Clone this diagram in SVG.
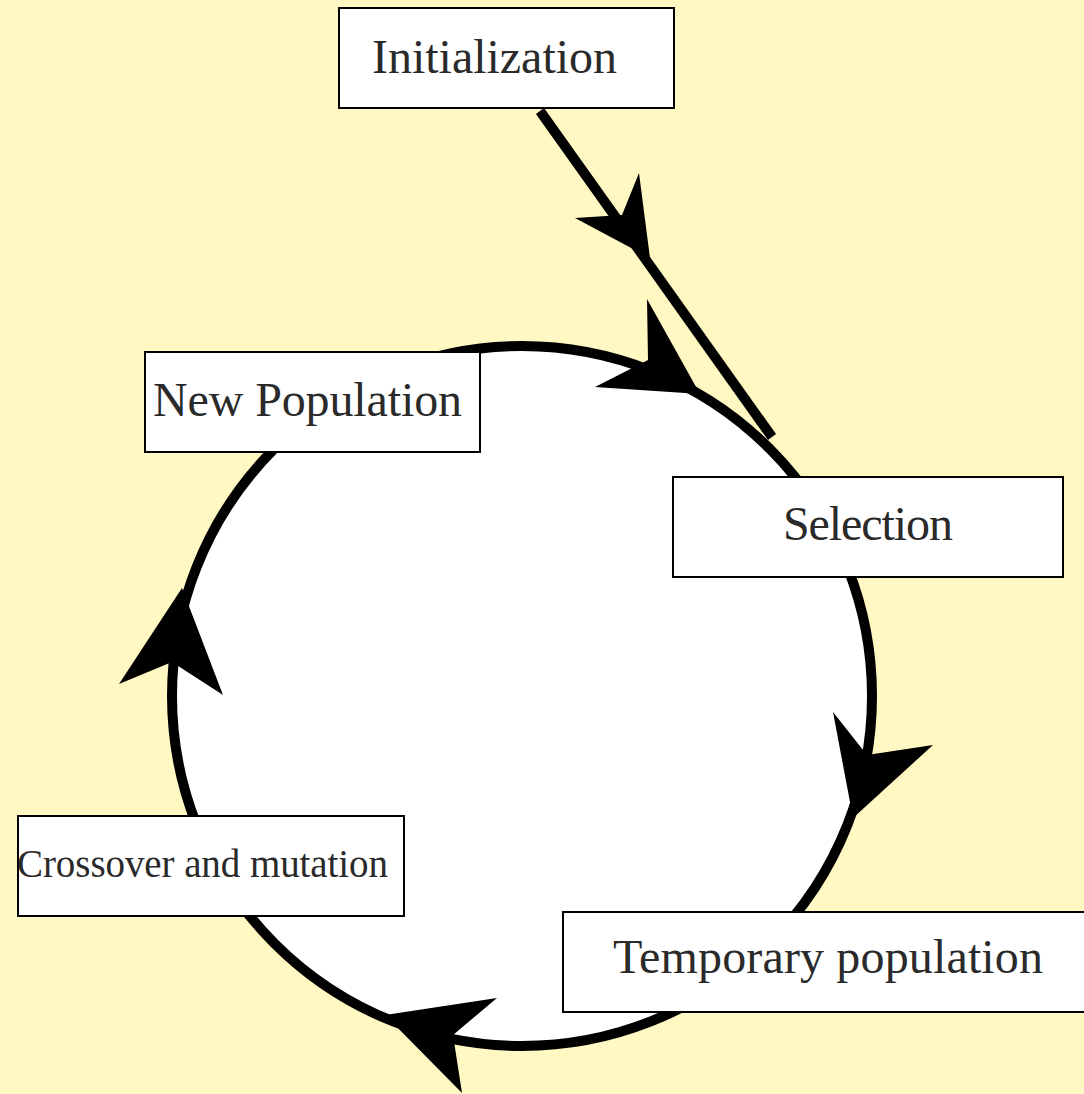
<svg xmlns="http://www.w3.org/2000/svg" width="1084" height="1094" viewBox="0 0 1084 1094">
<style>
.box{fill:#fff;stroke:#000;stroke-width:2}
.lbl{font-family:"Liberation Serif","Times New Roman",serif;fill:#2a2a2a}
.edge{fill:none;stroke:#000;stroke-width:10}
.head{fill:#000;stroke:none}
</style>
<rect x="0" y="0" width="1084" height="1094" fill="#fff8c2"/>
<g id="connectors">
<circle class="edge" cx="522" cy="696" r="350" style="fill:#fff"/>
<line class="edge" x1="540" y1="111" x2="772" y2="437"/>
<polygon class="head" points="650,258 575,218 622,215 639,173"/>
<polygon class="head" points="700,394 595,387 648,360 647,299"/>
<polygon class="head" points="853,818 833,712 867,755 933,745"/>
<polygon class="head" points="385,1015 497,998 453,1035 462,1093"/>
<polygon class="head" points="182,588 223,695 172,662 119,684"/>
</g>
<g id="init"><rect class="box" x="339" y="8" width="335" height="100"/><text class="lbl" x="372" y="73" font-size="48" textLength="245">Initialization</text></g>
<g id="newpop"><rect class="box" x="145" y="352" width="335" height="100"/><text class="lbl" x="153" y="416" font-size="48" textLength="309">New Population</text></g>
<g id="selection"><rect class="box" x="673" y="477" width="390" height="100"/><text class="lbl" x="783" y="540" font-size="48" textLength="170">Selection</text></g>
<g id="temppop"><rect class="box" x="563" y="912" width="530" height="100"/><text class="lbl" x="613" y="973" font-size="48" textLength="430">Temporary population</text></g>
<g id="crossover"><rect class="box" x="18" y="816" width="386" height="100"/><text class="lbl" x="17" y="877" font-size="39" textLength="371">Crossover and mutation</text></g>
</svg>
